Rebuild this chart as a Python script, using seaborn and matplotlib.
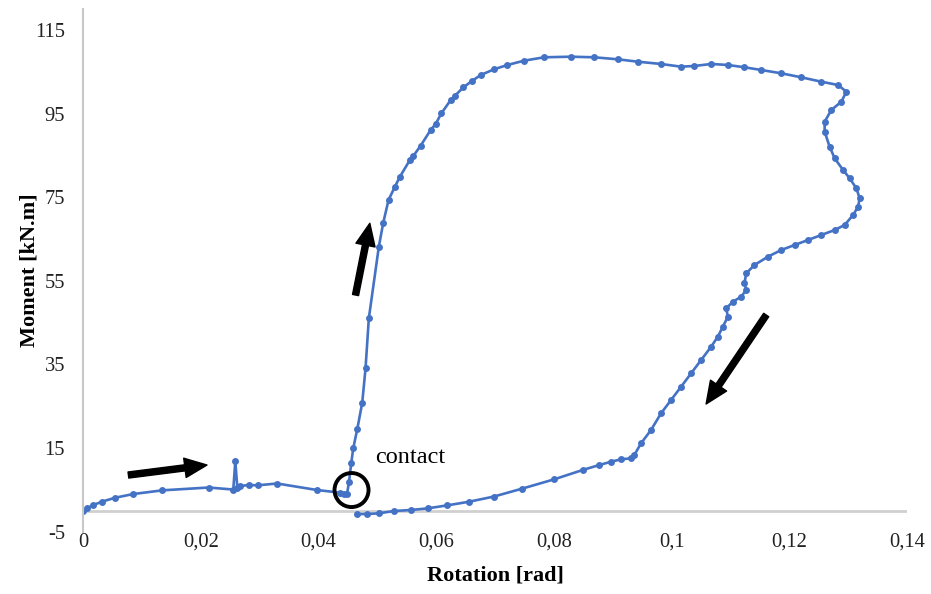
import matplotlib
matplotlib.use("Agg")
import matplotlib.pyplot as plt
import seaborn as sns
import pandas as pd

# ---- data ----
rotation = [
    0.0000, 0.00063, 0.00175, 0.00318, 0.00545, 0.00856, 0.01350, 0.02133,
    0.02553, 0.02587, 0.02621, 0.02672, 0.02814, 0.02967, 0.03297, 0.03978,
    0.04374, 0.04434, 0.04485, 0.04519,
    0.04557, 0.04591, 0.04659, 0.04744, 0.04800, 0.04856, 0.05026, 0.05101,
    0.05191, 0.05294, 0.05384, 0.05554, 0.05612, 0.05736, 0.05906, 0.05991,
    0.06089, 0.06247, 0.06315, 0.06463, 0.06616, 0.06757, 0.06984, 0.07212,
    0.07494, 0.07835, 0.08289, 0.08686, 0.09084, 0.09425, 0.09821, 0.10162,
    0.10388, 0.10672, 0.10957, 0.11239, 0.11523, 0.11864, 0.12204, 0.12545,
    0.12829, 0.12970, 0.12885, 0.12715, 0.12601, 0.12601, 0.12686, 0.12771,
    0.12914, 0.13026, 0.13140, 0.13196, 0.13169, 0.13084, 0.12941, 0.12771,
    0.12545, 0.12318, 0.12090, 0.11864, 0.11637, 0.11409, 0.11268, 0.11239,
    0.11268, 0.11183, 0.11042, 0.10928, 0.10957, 0.10871, 0.10786, 0.10672,
    0.10502, 0.10332, 0.10162, 0.09991, 0.09821, 0.09651, 0.09481, 0.09367,
    0.09311, 0.09140, 0.08970, 0.08771, 0.08488, 0.08005, 0.07467, 0.06984,
    0.06558, 0.06191, 0.05860, 0.05566, 0.05282, 0.05026, 0.04829, 0.04659,
]
moment = [
    0.00, 0.57, 1.36, 2.15, 3.11, 4.00, 4.88, 5.55,
    5.07, 11.89, 5.55, 5.91, 6.15, 6.08, 6.51, 4.95,
    4.31, 4.11, 4.00, 6.87,
    11.34, 14.93, 19.47, 25.84, 34.07, 46.03, 63.16, 68.90,
    74.33, 77.37, 79.90, 83.90, 84.86, 87.32, 91.07, 92.51,
    95.07, 98.25, 99.21, 101.29, 102.87, 104.23, 105.60, 106.63,
    107.66, 108.47, 108.61, 108.47, 107.99, 107.42, 106.87, 106.22,
    106.39, 106.87, 106.63, 106.08, 105.43, 104.64, 103.68, 102.63,
    101.84, 100.24, 97.85, 95.86, 93.06, 90.67, 87.08, 84.31,
    81.51, 79.52, 77.13, 74.74, 72.73, 70.74, 68.35, 67.15,
    65.96, 64.76, 63.56, 62.37, 60.77, 58.78, 56.79, 54.40,
    52.80, 51.20, 50.00, 48.42, 46.41, 44.02, 41.63, 39.23,
    36.05, 32.87, 29.67, 26.48, 23.30, 19.31, 16.12, 13.33,
    12.54, 12.30, 11.72, 10.93, 9.74, 7.51, 5.31, 3.40,
    2.15, 1.29, 0.57, 0.17, -0.07, -0.62, -0.79, -0.79,
]
x_ticks = [0, 0.02, 0.04, 0.06, 0.08, 0.10, 0.12, 0.14]
x_tick_labels = ["0", "0,02", "0,04", "0,06", "0,08", "0,1", "0,12", "0,14"]
y_ticks = [-5, 15, 35, 55, 75, 95, 115]
y_tick_labels = ["-5", "15", "35", "55", "75", "95", "115"]

df = pd.DataFrame({"rotation": rotation, "moment": moment})

sns.set_theme(style="white")
plt.rcParams["font.family"] = ["Liberation Serif", "DejaVu Serif"]

fig = plt.figure(figsize=(9.31, 5.94), dpi=100)
ax = fig.add_axes([0.0892, 0.105, 0.885, 0.8797])

sns.lineplot(data=df, x="rotation", y="moment", sort=False, estimator=None,
             color="#4472C4", linewidth=1.9, marker="o", markersize=5,
             markeredgewidth=0, ax=ax)

ax.set_xlim(0, 0.14)
ax.set_ylim(-5, 120)
ax.set_xticks(x_ticks)
ax.set_xticklabels(x_tick_labels)
ax.set_yticks(y_ticks)
ax.set_yticklabels(y_tick_labels)
ax.tick_params(axis="both", length=0, labelsize=14.8, colors="#222222")
ax.tick_params(axis="x", pad=1)
ax.tick_params(axis="y", pad=13)

for s in ["top", "right", "bottom"]:
    ax.spines[s].set_visible(False)
ax.spines["left"].set_color("#c8c8c8")
ax.spines["left"].set_linewidth(1.5)
ax.axhline(0, color="#d0d0d0", linewidth=2.0, zorder=0)

ax.set_xlabel("Rotation [rad]", fontsize=16, fontweight="bold", color="black", labelpad=10)
ax.set_ylabel("Moment [kN.m]", fontsize=16, fontweight="bold", color="black", labelpad=-3)

arrow_style = "simple,head_length=0.8,head_width=0.7,tail_width=0.22"
for (x0, y0, x1, y1) in [(0.00771, 8.54, 0.02106, 10.93),
                         (0.04630, 51.6, 0.04873, 68.76),
                         (0.11608, 46.82, 0.10587, 25.53)]:
    ax.annotate("", xy=(x1, y1), xytext=(x0, y0),
                arrowprops=dict(arrowstyle=arrow_style, color="black",
                                mutation_scale=20, shrinkA=0, shrinkB=0))

ax.scatter([0.04562], [4.95], s=600, facecolors="none", edgecolors="black",
           linewidths=2.8, zorder=5)
ax.text(0.0497, 12.85, "contact", fontsize=17.5, ha="left", va="center", color="black")

fig.savefig("out.png", dpi=100)
